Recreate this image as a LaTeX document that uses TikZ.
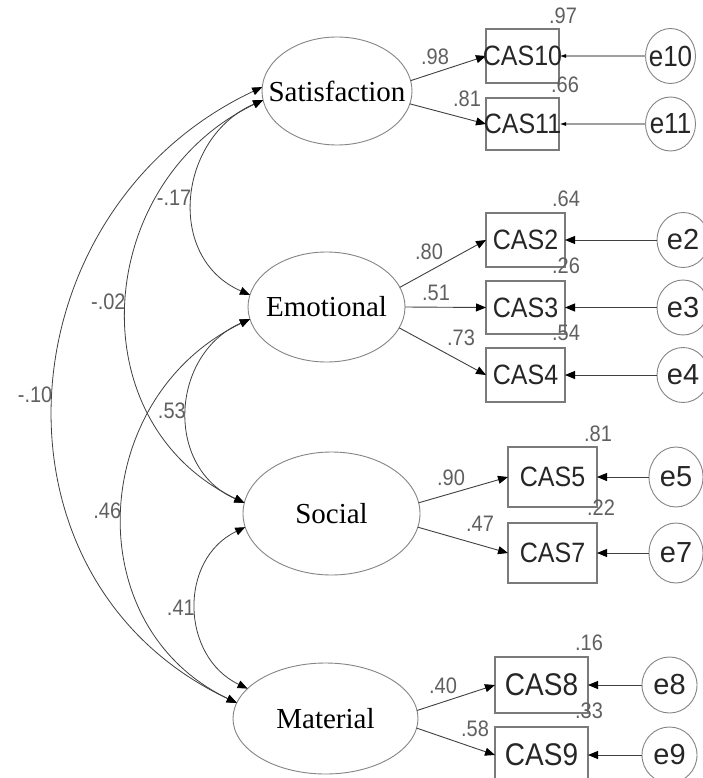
\documentclass[tikz,border=0pt]{standalone}
\usepackage{fontspec}
\setmainfont{Liberation Serif}
\setsansfont{Liberation Sans}
\usepackage{graphicx}
\usetikzlibrary{arrows.meta,shapes.geometric}
\definecolor{numgray}{HTML}{606060}
\definecolor{linegray}{HTML}{404040}
\definecolor{boxgray}{HTML}{7A7A7A}
\definecolor{elgray}{HTML}{858585}
\definecolor{txtdark}{HTML}{262626}
\definecolor{dblgray}{HTML}{A0A0A0}
\newcommand{\vst}[1]{\scalebox{1}[1.12]{#1}}
\begin{document}
\begin{tikzpicture}[x=1pt,y=-1pt,
  latent/.style={ellipse, draw=elgray, line width=0.9pt, inner sep=0pt, outer sep=0pt},
  lattext/.style={font=\fontsize{29}{30}\selectfont, fill=white, inner sep=0.5pt},
  obs/.style={rectangle, draw=boxgray, line width=1.4pt, inner sep=0pt, outer sep=0pt},
  obstext/.style={text=txtdark, font=\sffamily\fontsize{25}{26}\selectfont, inner sep=0pt},
  obstextb/.style={text=txtdark, font=\sffamily\fontsize{28}{29}\selectfont, inner sep=0pt},
  err/.style={ellipse, draw=elgray, line width=0.9pt, inner sep=0pt, outer sep=0pt},
  errtext/.style={text=txtdark, font=\sffamily\fontsize{29}{30}\selectfont, inner sep=0pt},
  errtexts/.style={text=txtdark, font=\sffamily\fontsize{26}{27}\selectfont, inner sep=0pt},
  num/.style={text=numgray, font=\sffamily\fontsize{20}{21}\selectfont, inner sep=0pt},
  tip/.style={-{Triangle[length=10pt,width=8pt,black]}},
  load/.style={draw=linegray, line width=0.9pt, tip},
  errline/.style={draw=linegray, line width=0.9pt, tip},
  errdbl/.style={draw=dblgray, line width=2.6pt, -{Triangle[length=7pt,width=3pt,black]}},
  cov/.style={draw=linegray, line width=0.8pt, {Triangle[length=10pt,width=8pt,black]}-{Triangle[length=10pt,width=8pt,black]}},
  covlab/.style={text=numgray, font=\sffamily\fontsize{20}{21}\selectfont, inner sep=1pt, left}
]
\useasboundingbox (0,0) rectangle (703,778);
\fill[white] (0,0) rectangle (703,778);

% latent variables
\node[latent, minimum width=150pt, minimum height=108pt] (sat) at (337,91) {};
\node[latent, minimum width=157pt, minimum height=110pt] (emo) at (326.5,307) {};
\node[latent, minimum width=177pt, minimum height=123pt] (soc) at (331.5,513.5) {};
\node[latent, minimum width=185pt, minimum height=111pt] (mat) at (325.5,718.5) {};

% observed variables
\node[obs, minimum width=73pt, minimum height=54pt] (cas10) at (522.5,56) {};
\node[obs, minimum width=73pt, minimum height=52pt] (cas11) at (522.5,124) {};
\node[obs, minimum width=79pt, minimum height=54pt] (cas2) at (525.5,240) {};
\node[obs, minimum width=79pt, minimum height=53pt] (cas3) at (525.5,307.5) {};
\node[obs, minimum width=79pt, minimum height=54pt] (cas4) at (525.5,375) {};
\node[obs, minimum width=89pt, minimum height=60pt] (cas5) at (552.5,477) {};
\node[obs, minimum width=89pt, minimum height=60pt] (cas7) at (552.5,553) {};
\node[obs, minimum width=93pt, minimum height=56pt] (cas8) at (541.5,685) {};
\node[obs, minimum width=93pt, minimum height=56pt] (cas9) at (541.5,755) {};

% error terms
\node[err, minimum width=50pt, minimum height=55pt] (e10) at (670.5,56) {};
\node[err, minimum width=50pt, minimum height=54pt] (e11) at (670.5,124) {};
\node[err, minimum width=52pt, minimum height=55pt] (e2) at (683,240) {};
\node[err, minimum width=52pt, minimum height=55pt] (e3) at (683,307.5) {};
\node[err, minimum width=52pt, minimum height=55pt] (e4) at (683,375) {};
\node[err, minimum width=54pt, minimum height=60pt] (e5) at (676,477) {};
\node[err, minimum width=54pt, minimum height=60pt] (e7) at (676,553) {};
\node[err, minimum width=55pt, minimum height=56pt] (e8) at (669.5,685) {};
\node[err, minimum width=55pt, minimum height=56pt] (e9) at (669.5,755) {};

% loadings
\draw[load] (sat.8.6) -- (cas10.west);
\draw[load] (sat.350.7) -- (cas11.west);
\draw[load] (emo.15.5) -- (cas2.west);
\draw[load] (emo.0) -- (cas3.west);
\draw[load] (emo.344.5) -- (cas4.west);
\draw[load] (soc.7.4) -- (cas5.west);
\draw[load] (soc.351.3) -- (cas7.west);
\draw[load] (mat.5.1) -- (cas8.west);
\draw[load] (mat.354.3) -- (cas9.west);

% error arrows
\draw[errdbl] (e10.west) -- (cas10.east);
\draw[errdbl] (e11.west) -- (cas11.east);
\draw[errline] (e2.west) -- (cas2.east);
\draw[errline] (e3.west) -- (cas3.east);
\draw[errline] (e4.west) -- (cas4.east);
\draw[errline] (e5.west) -- (cas5.east);
\draw[errline] (e7.west) -- (cas7.east);
\draw[errline] (e8.west) -- (cas8.east);
\draw[errline] (e9.west) -- (cas9.east);

% covariances
\draw[cov] (sat.187) .. controls +(-85,37) and +(-85,-37) .. node[covlab] (c1) {\vst{-.17}} (emo.171.4);
\draw[cov] (sat.187) .. controls +(-169,81) and +(-169,-81) .. node[covlab] (c2) {\vst{-.02}} (soc.173.3);
\draw[cov] (sat.177) .. controls +(-261,123) and +(-261,-123) .. node[covlab] (c3) {\vst{-.10}} (mat.170.3);
\draw[cov] (emo.189.3) .. controls +(-80,35) and +(-80,-35) .. node[covlab] (c4) {\vst{.53}} (soc.173.3);
\draw[cov] (emo.189.3) .. controls +(-161,77) and +(-161,-77) .. node[covlab] (c5) {\vst{.46}} (mat.170.3);
\draw[cov] (soc.189.2) .. controls +(-67,32) and +(-67,-32) .. node[covlab] (c6) {\vst{.41}} (mat.159.7);

% latent texts
\node[lattext] (satt) at (sat) {Satisfaction};
\node[lattext] (emot) at (emo) {Emotional};
\node[lattext] (soct) at (soc) {Social};
\node[lattext] (matt) at (mat) {Material};

% observed texts
\node[obstext] (cas10t) at (cas10) {\vst{CAS10}};
\node[obstext] (cas11t) at (cas11) {\vst{CAS11}};
\node[obstext] (cas2t) at (cas2) {\vst{CAS2}};
\node[obstext] (cas3t) at (cas3) {\vst{CAS3}};
\node[obstext] (cas4t) at (cas4) {\vst{CAS4}};
\node[obstext] (cas5t) at (cas5) {\vst{CAS5}};
\node[obstext] (cas7t) at (cas7) {\vst{CAS7}};
\node[obstextb] (cas8t) at (cas8) {\vst{CAS8}};
\node[obstextb] (cas9t) at (cas9) {\vst{CAS9}};

% error texts
\node[errtexts] (e10t) at (e10) {\vst{e10}};
\node[errtexts] (e11t) at (e11) {\vst{e11}};
\node[errtext] (e2t) at (e2) {e2};
\node[errtext] (e3t) at (e3) {e3};
\node[errtext] (e4t) at (e4) {e4};
\node[errtext] (e5t) at (e5) {e5};
\node[errtext] (e7t) at (e7) {e7};
\node[errtext] (e8t) at (e8) {e8};
\node[errtext] (e9t) at (e9) {e9};

% squared multiple correlations
\node[num] (r10) at (563,16) {\vst{.97}};
\node[num] (r11) at (565,85) {\vst{.66}};
\node[num] (r2) at (566,199) {\vst{.64}};
\node[num] (r3) at (566,266) {\vst{.26}};
\node[num] (r4) at (566,333) {\vst{.54}};
\node[num] (r5) at (598,434) {\vst{.81}};
\node[num] (r7) at (601,508) {\vst{.22}};
\node[num] (r8) at (589,643) {\vst{.16}};
\node[num] (r9) at (589,711) {\vst{.33}};

% loading values
\node[num] (l10) at (435,57) {\vst{.98}};
\node[num] (l11) at (467,99) {\vst{.81}};
\node[num] (l2) at (429,252) {\vst{.80}};
\node[num] (l3) at (436,293) {\vst{.51}};
\node[num] (l4) at (461,338) {\vst{.73}};
\node[num] (l5) at (451,478) {\vst{.90}};
\node[num] (l7) at (480,524) {\vst{.47}};
\node[num] (l8) at (443,686) {\vst{.40}};
\node[num] (l9) at (475,729) {\vst{.58}};
\end{tikzpicture}
\end{document}
